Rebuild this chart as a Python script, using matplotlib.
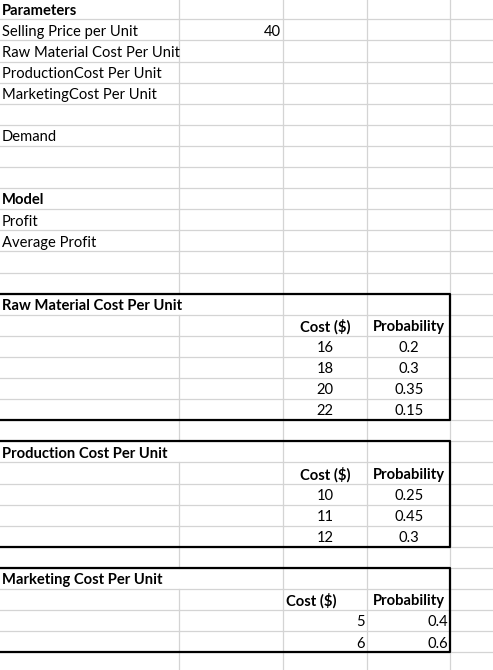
import matplotlib.pyplot as plt

# spreadsheet layout
col_edges = [0, 179, 283, 367, 450, 493]
row_h = 21.1
row0 = 19.3  # y of line below row 0

left_labels = {0: 'Parameters', 1: 'Selling Price per Unit', 2: 'Raw Material Cost Per Unit',
               3: 'ProductionCost Per Unit', 4: 'MarketingCost Per Unit', 6: 'Demand',
               9: 'Model', 10: 'Profit', 11: 'Average Profit'}
bold_rows = [0, 9]
selling_price = 40

raw_cost = [16, 18, 20, 22]
raw_prob = ['0.2', '0.3', '0.35', '0.15']
prod_cost = [10, 11, 12]
prod_prob = ['0.25', '0.45', '0.3']
mkt_cost = [5, 6]
mkt_prob = ['0.4', '0.6']

# (title row, title, costs, probs, centered values)
tables = [
    (14, 'Raw Material Cost Per Unit', raw_cost, raw_prob, True),
    (21, 'Production Cost Per Unit', prod_cost, prod_prob, True),
    (27, 'Marketing Cost Per Unit', mkt_cost, mkt_prob, False),
]

plt.rcParams['font.family'] = ['Lato', 'DejaVu Sans']
FS = 10.6

fig = plt.figure(figsize=(4.93, 6.70), dpi=100)
ax = fig.add_axes([0, 0, 1, 1])
ax.set_xlim(0, 493)
ax.set_ylim(670, 0)
ax.axis('off')

def line_y(k):
    return row0 + k * row_h

def mid_y(r):
    return line_y(r) - row_h / 2 + 1.8

grid = '#d4d4d4'
title_rows = [t[0] for t in tables]
# horizontal grid lines
for k in range(-1, 32):
    ax.plot([0, 493], [line_y(k), line_y(k)], color=grid, lw=0.9, zorder=1)
# vertical grid lines, broken where titles overflow into col B
for x in col_edges[1:-1]:
    for r in range(0, 32):
        if x == 179 and r in title_rows:
            continue
        ax.plot([x, x], [line_y(r - 1), line_y(r)], color=grid, lw=0.9, zorder=1)

for r, txt in left_labels.items():
    ax.text(2, mid_y(r), txt, fontsize=FS, va='center', ha='left',
            fontweight='bold' if r in bold_rows else 'normal', zorder=3)
ax.text(281, mid_y(1), str(selling_price), fontsize=FS, va='center', ha='right', zorder=3)

for tr, title, costs, probs, centered in tables:
    n = len(costs)
    top, bot = line_y(tr - 1), line_y(tr + 1 + n)
    ax.plot([0, 450, 450, 0], [top, top, bot, bot], color='black', lw=1.6, zorder=4)
    ax.text(2, mid_y(tr), title, fontsize=FS, fontweight='bold', va='center', zorder=3)
    if centered:
        ax.text(325, mid_y(tr + 1), 'Cost ($)', fontsize=FS, fontweight='bold', ha='center', va='center', zorder=3)
    else:
        ax.text(286, mid_y(tr + 1), 'Cost ($)', fontsize=FS, fontweight='bold', ha='left', va='center', zorder=3)
    ax.text(409, mid_y(tr + 1), 'Probability', fontsize=FS, fontweight='bold', ha='center', va='center', zorder=3)
    for i, (c, p) in enumerate(zip(costs, probs)):
        y = mid_y(tr + 2 + i)
        if centered:
            ax.text(325, y, str(c), fontsize=FS, ha='center', va='center', zorder=3)
            ax.text(409, y, p, fontsize=FS, ha='center', va='center', zorder=3)
        else:
            ax.text(365, y, str(c), fontsize=FS, ha='right', va='center', zorder=3)
            ax.text(448, y, p, fontsize=FS, ha='right', va='center', zorder=3)

fig.savefig('out.png', dpi=100)
